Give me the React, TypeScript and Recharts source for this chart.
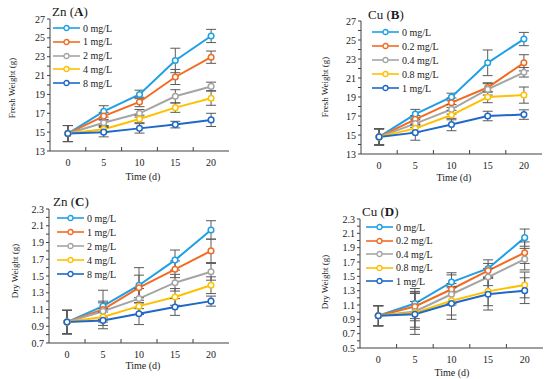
import { LineChart, Line, XAxis, YAxis, ErrorBar } from 'recharts';

const times = [0, 5, 10, 15, 20];
const gapTicks = [2.5, 7.5, 12.5, 17.5];
const znLevels = ['0 mg/L', '1 mg/L', '2 mg/L', '4 mg/L', '8 mg/L'];
const cuLevels = ['0 mg/L', '0.2 mg/L', '0.4 mg/L', '0.8 mg/L', '1 mg/L'];
const colors = ['#1ea0e6', '#f26b21', '#a5a5a5', '#ffc000', '#1e68c8'];

// fresh weight (g), one row per concentration
const znFresh = [
  [14.85, 17.2, 19.0, 22.6, 25.2],
  [14.85, 16.7, 18.2, 20.85, 22.95],
  [14.85, 16.0, 17.0, 18.8, 19.85],
  [14.85, 15.3, 16.4, 17.6, 18.6],
  [14.85, 15.0, 15.4, 15.8, 16.3],
];
const znFreshErr = [
  [0.85, 0.6, 0.45, 1.3, 0.7],
  [0.85, 0.4, 0.5, 0.8, 0.65],
  [0.85, 0.3, 0.4, 0.7, 0.45],
  [0.85, 0.3, 0.4, 0.5, 0.75],
  [0.85, 0.5, 0.5, 0.35, 0.7],
];
const cuFresh = [
  [14.8, 17.2, 19.0, 22.6, 25.1],
  [14.8, 16.65, 18.4, 20.0, 22.6],
  [14.8, 16.2, 17.7, 19.8, 21.6],
  [14.8, 15.7, 17.1, 19.0, 19.2],
  [14.8, 15.25, 16.1, 17.0, 17.15],
];
const cuFreshErr = [
  [0.85, 0.5, 0.4, 1.35, 0.7],
  [0.85, 0.4, 0.5, 0.5, 0.85],
  [0.85, 0.4, 0.5, 0.6, 0.5],
  [0.85, 0.4, 0.5, 0.6, 0.85],
  [0.85, 0.8, 0.65, 0.5, 0.5],
];

// dry weight (g)
const znDry = [
  [0.95, 1.14, 1.39, 1.69, 2.05],
  [0.95, 1.1, 1.36, 1.58, 1.8],
  [0.95, 1.08, 1.23, 1.42, 1.55],
  [0.95, 1.01, 1.14, 1.25, 1.39],
  [0.95, 0.97, 1.05, 1.13, 1.2],
];
const znDryErr = [
  [0.14, 0.19, 0.21, 0.12, 0.11],
  [0.14, 0.1, 0.15, 0.1, 0.14],
  [0.14, 0.1, 0.12, 0.1, 0.1],
  [0.14, 0.1, 0.1, 0.1, 0.1],
  [0.14, 0.1, 0.13, 0.1, 0.06],
];
const cuDry = [
  [0.95, 1.12, 1.42, 1.61, 2.04],
  [0.95, 1.08, 1.32, 1.58, 1.83],
  [0.95, 1.01, 1.25, 1.49, 1.74],
  [0.95, 0.99, 1.16, 1.29, 1.38],
  [0.95, 0.97, 1.12, 1.25, 1.3],
];
const cuDryErr = [
  [0.14, 0.21, 0.13, 0.12, 0.12],
  [0.14, 0.2, 0.2, 0.1, 0.15],
  [0.14, 0.25, 0.15, 0.12, 0.15],
  [0.14, 0.3, 0.2, 0.2, 0.18],
  [0.14, 0.18, 0.22, 0.22, 0.18],
];

const freshTicks = [13, 14, 15, 16, 17, 18, 19, 20, 21, 22, 23, 24, 25, 26, 27];
const freshLabels = [13, 15, 17, 19, 21, 23, 25, 27];
const dryTicksC = [0.7, 0.8, 0.9, 1.0, 1.1, 1.2, 1.3, 1.4, 1.5, 1.6, 1.7, 1.8, 1.9, 2.0, 2.1, 2.2, 2.3];
const dryLabelsC = [0.7, 0.9, 1.1, 1.3, 1.5, 1.7, 1.9, 2.1, 2.3];
const dryTicksD = [0.5, 0.6, 0.7, 0.8, 0.9, 1.0, 1.1, 1.2, 1.3, 1.4, 1.5, 1.6, 1.7, 1.8, 1.9, 2.0, 2.1, 2.2, 2.3];
const dryLabelsD = [0.5, 0.7, 0.9, 1.1, 1.3, 1.5, 1.7, 1.9, 2.1, 2.3];

const FONT = "'Liberation Serif', 'Times New Roman', serif";
const AXIS = '#404040';
const TEXT = '#1a1a1a';

const buildRows = (means: number[][], errs: number[][]) =>
  times.map((t, i) => {
    const row: Record<string, number> = { t };
    means.forEach((s, k) => {
      row['v' + k] = s[i];
      row['e' + k] = errs[k][i];
    });
    return row;
  });

const XTick = (props: any) => {
  const { x, y, payload } = props;
  if (payload.value % 5 !== 0) {
    return <line x1={x} x2={x} y1={y} y2={y - 4} stroke={AXIS} strokeWidth={1} />;
  }
  return (
    <text x={x} y={y + 15} textAnchor="middle" fontSize={10} fill={TEXT} style={{ fontFamily: FONT }}>
      {payload.value}
    </text>
  );
};

const LegendIcon = ({ color }: { color: string }) => (
  <svg width={27} height={8} style={{ display: 'block' }}>
    <line x1={0} x2={27} y1={4} y2={4} stroke={color} strokeWidth={1.6} />
    <circle cx={13.5} cy={4} r={2.5} fill="#fff" stroke={color} strokeWidth={1.3} />
  </svg>
);

type PanelProps = {
  plot: { x: number; y: number; w: number; h: number };
  metal: string;
  letter: string;
  titleAt: [number, number];
  levels: string[];
  means: number[][];
  errs: number[][];
  yDomain: [number, number];
  yTicks: number[];
  yLabels: number[];
  digits: number;
  yTitle: string;
  yTitleAt: [number, number];
  xTitleAt: [number, number];
  legendAt: [number, number, number];
};

const Panel = (p: PanelProps) => {
  const rows = buildRows(p.means, p.errs);
  const xTicks = [...times, ...gapTicks].sort((a, b) => a - b);
  const fmt = (v: number) =>
    p.yLabels.some((l) => Math.abs(l - v) < 1e-6) ? v.toFixed(p.digits) : '';
  return (
    <>
      <div style={{ position: 'absolute', left: p.plot.x - 40, top: p.plot.y - 10 }}>
        <LineChart
          width={p.plot.w + 50}
          height={p.plot.h + 40}
          data={rows}
          margin={{ top: 10, right: 10, bottom: 10, left: 10 }}
        >
          <XAxis
            dataKey="t"
            type="number"
            domain={[-2.5, 22.5]}
            ticks={xTicks}
            interval={0}
            tickSize={0}
            tickMargin={0}
            tickLine={false}
            tick={<XTick />}
            height={20}
            stroke={AXIS}
          />
          <XAxis xAxisId="top" orientation="top" type="number" domain={[-2.5, 22.5]} height={0} tick={false} tickLine={false} stroke={AXIS} />
          <YAxis
            type="number"
            domain={p.yDomain}
            ticks={p.yTicks}
            interval={0}
            width={30}
            tickSize={3}
            tickMargin={2}
            tickFormatter={fmt}
            tick={{ fontSize: 10, fill: TEXT, style: { fontFamily: FONT } }}
            stroke={AXIS}
          />
          <YAxis yAxisId="right" orientation="right" type="number" domain={p.yDomain} width={0} tick={false} tickLine={false} stroke={AXIS} />
          {p.levels.map((name, k) => (
            <Line
              key={name}
              name={name}
              type="linear"
              dataKey={'v' + k}
              stroke={colors[k]}
              strokeWidth={2}
              dot={{ r: 2.8, fill: '#fff', stroke: colors[k], strokeWidth: 1.5 }}
              activeDot={false}
              isAnimationActive={false}
            >
              <ErrorBar dataKey={'e' + k} width={5} stroke="#5a5a5a" strokeWidth={1} direction="y" isAnimationActive={false} />
            </Line>
          ))}
        </LineChart>
      </div>
      <div style={{ position: 'absolute', left: p.titleAt[0], top: p.titleAt[1], fontSize: 13, lineHeight: '13px', fontFamily: FONT, whiteSpace: 'nowrap', color: TEXT }}>
        {p.metal} (<b>{p.letter}</b>)
      </div>
      <div
        style={{
          position: 'absolute', left: p.yTitleAt[0], top: p.yTitleAt[1], fontSize: 9, fontFamily: FONT,
          whiteSpace: 'nowrap', transform: 'translate(-50%, -50%) rotate(-90deg)', color: TEXT,
        }}
      >
        {p.yTitle}
      </div>
      <div
        style={{
          position: 'absolute', left: p.xTitleAt[0], top: p.xTitleAt[1], fontSize: 10, fontFamily: FONT,
          whiteSpace: 'nowrap', transform: 'translate(-50%, -50%)', color: TEXT,
        }}
      >
        Time (d)
      </div>
      {p.levels.map((name, k) => (
        <div
          key={name}
          style={{
            position: 'absolute', left: p.legendAt[0], top: p.legendAt[1] + k * p.legendAt[2] - 7, height: 14,
            display: 'flex', alignItems: 'center', gap: 3, fontSize: 10, fontFamily: FONT, whiteSpace: 'nowrap', color: TEXT,
          }}
        >
          <LegendIcon color={colors[k]} />
          <span>{name}</span>
        </div>
      ))}
    </>
  );
};

export default function App() {
  return (
    <div style={{ position: 'absolute', left: 0, top: 0, width: 550, height: 379, background: '#fff', overflow: 'hidden' }}>
      <Panel
        plot={{ x: 50, y: 19, w: 179, h: 132 }}
        metal="Zn" letter="A" titleAt={[52, 5]}
        levels={znLevels} means={znFresh} errs={znFreshErr}
        yDomain={[13, 27]} yTicks={freshTicks} yLabels={freshLabels} digits={0}
        yTitle="Fresh Weight (g)" yTitleAt={[12, 88]} xTitleAt={[143, 176]}
        legendAt={[53, 28, 13.8]}
      />
      <Panel
        plot={{ x: 361, y: 21, w: 181, h: 133 }}
        metal="Cu" letter="B" titleAt={[368, 8]}
        levels={cuLevels} means={cuFresh} errs={cuFreshErr}
        yDomain={[13, 27]} yTicks={freshTicks} yLabels={freshLabels} digits={0}
        yTitle="Fresh Weight (g)" yTitleAt={[325, 87]} xTitleAt={[454, 177]}
        legendAt={[372, 32, 14]}
      />
      <Panel
        plot={{ x: 49, y: 209, w: 180, h: 134 }}
        metal="Zn" letter="C" titleAt={[53, 195]}
        levels={znLevels} means={znDry} errs={znDryErr}
        yDomain={[0.7, 2.3]} yTicks={dryTicksC} yLabels={dryLabelsC} digits={1}
        yTitle="Dry Weight (g)" yTitleAt={[15, 271]} xTitleAt={[143, 365]}
        legendAt={[57, 218, 14]}
      />
      <Panel
        plot={{ x: 360, y: 219, w: 183, h: 129 }}
        metal="Cu" letter="D" titleAt={[362, 205]}
        levels={cuLevels} means={cuDry} errs={cuDryErr}
        yDomain={[0.5, 2.3]} yTicks={dryTicksD} yLabels={dryLabelsD} digits={1}
        yTitle="Dry Weight (g)" yTitleAt={[325, 282]} xTitleAt={[452, 372]}
        legendAt={[366, 227, 13.6]}
      />
    </div>
  );
}
